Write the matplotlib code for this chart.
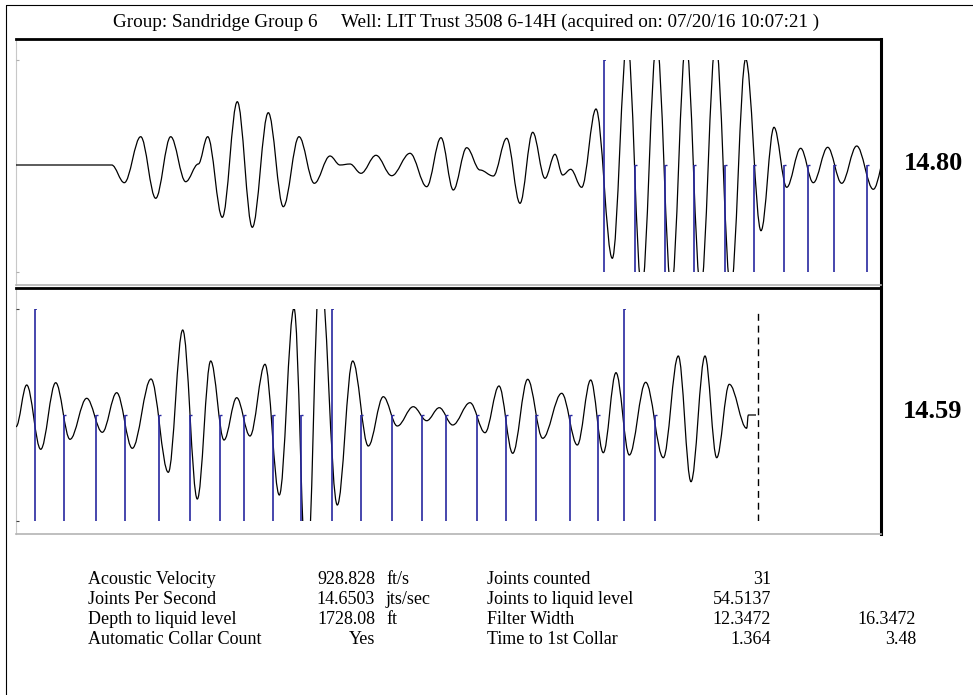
import matplotlib
matplotlib.use('Agg')
import matplotlib.pyplot as plt
from matplotlib.path import Path
from matplotlib.patches import PathPatch, Rectangle

plt.rcParams['font.family'] = ['Liberation Serif', 'DejaVu Serif']

W, H = 973, 695

# ---- data ----
# top shot: extrema of the acoustic trace (time index, amplitude)
top_t = [16, 111.7, 124.3, 140.7, 155.7, 170.7, 185.7, 198.3, 207.7, 222.3, 237.3,
         252.3, 268.3, 283.3, 299, 314.3, 330, 340, 350, 361, 376, 391.7, 410,
         426.7, 441, 453.3, 466.7, 480, 493.3, 506.7, 520, 532.7, 545, 555, 562.7,
         570.7, 581.7, 596, 612.3, 627.3, 641.7, 656.7, 671.3, 686, 700.7, 715.7,
         730.7, 745.7, 761, 774, 786.7, 800.7, 813.3, 827.7, 841.7, 856.7, 873.3, 888]
top_amp = [0, 0, -17.7, 28.3, -33.3, 28.3, -16.7, 1, 28.3, -52.3, 63.3,
           -62.3, 52.3, -41.7, 28.3, -18.3, 9, 0, 1, -8.3, 9.7, -10.7, 11.7,
           -21.7, 27.3, -25, 17.3, -5, -11, 26.7, -38.3, 32.7, -13.3, 10.7, -10,
           -4.3, -22.3, 56, -93.3, 125, -124, 123, -124, 123, -124, 123,
           -124, 106, -65.7, 37.7, -22.3, 16.7, -17.7, 17.7, -18.3, 19, -24.3, 18]
top_collar_first = [604.3]
top_collars = [635.3, 665, 694, 725.3, 754.3, 784, 808, 834, 866.7]

# bottom shot
bot_t = [16, 26.7, 40.7, 55.7, 70, 86.7, 102.3, 116.7, 132.3, 151, 168.3, 182.7,
         197.3, 210.7, 224, 236.7, 250, 265, 279.3, 294, 306.7, 320, 337.3, 352.7,
         368.3, 383.3, 397.3, 413.3, 426.7, 439.3, 452.7, 470, 485, 499, 512.7,
         527.7, 542.7, 561.7, 577.3, 590.7, 603.3, 616, 629.3, 645.7, 663.3, 678.3,
         691, 705, 716.7, 729.3, 746.7, 748.3, 756]
bot_amp = [-11.7, 30, -34.3, 32.3, -24.3, 16.7, -17.3, 22.3, -33.3, 36, -57.3, 85,
           -84, 54, -25, 17.3, -21, 50.7, -80, 106.7, -170, 150, -90, 54,
           -31, 18.3, -11, 8.3, -5.7, 7.3, -10, 12.3, -17.7, 29, -38.3,
           35.7, -23.3, 21.7, -30, 35, -37.7, 42.3, -40, 32.7, -42.7, 59,
           -66.7, 59, -42.7, 30.7, -13.3, 0, 0]
bot_collar_full = [35, 331.7, 624]
bot_collars = [64, 95.7, 124.7, 159.3, 190.3, 219.7, 244, 273.3, 301.3, 361.3,
               392.3, 422, 446, 476.7, 506.3, 535.7, 570.3, 598, 654.7]
liquid_level_t = 758.3

jps_labels = ['14.80', '14.59']
title = ('Group: Sandridge Group 6     Well: LIT Trust 3508 6-14H '
         '(acquired on: 07/20/16 10:07:21 )')

left_names = ['Acoustic Velocity', 'Joints Per Second', 'Depth to liquid level',
              'Automatic Collar Count']
left_vals = ['928.828', '14.6503', '1728.08', 'Yes']
left_units = ['ft/s', 'jts/sec', 'ft', '']
right_names = ['Joints counted', 'Joints to liquid level', 'Filter Width',
               'Time to 1st Collar']
right_vals = ['31', '54.5137', '12.3472', '1.364']
right_vals2 = ['', '', '16.3472', '3.48']

BLUE = '#2828a0'
FS = 13


def rect(x0, y0, x1, y1):
    # pixel box -> figure fraction
    return [x0 / W, 1 - y1 / H, (x1 - x0) / W, (y1 - y0) / H]


def wave_path(t, a, k=0.36):
    verts = [(t[0], a[0])]
    codes = [Path.MOVETO]
    for i in range(1, len(t)):
        dx = t[i] - t[i - 1]
        verts += [(t[i - 1] + k * dx, a[i - 1]), (t[i] - k * dx, a[i]), (t[i], a[i])]
        codes += [Path.CURVE4] * 3
    return Path(verts, codes)


fig = plt.figure(figsize=(W / 100, H / 100), dpi=100)

# background canvas for frame + text
bg = fig.add_axes([0, 0, 1, 1])
bg.set_xlim(0, W)
bg.set_ylim(H, 0)
bg.axis('off')
bg.add_patch(Rectangle((5.5, 4.5), 1000, 1000, fill=False, ec='black', lw=0.8))


def panel(frame_box, inner_box, ylim, t, amp, full, half, label, tick_col):
    fa = fig.add_axes(rect(*frame_box))
    fa.set_xticks([])
    fa.set_yticks([])
    fa.spines['top'].set_linewidth(2.0)
    fa.spines['right'].set_linewidth(2.2)
    fa.spines['left'].set_color('#c8c8c8')
    fa.spines['bottom'].set_color('#b4b4b4')
    fa.spines['left'].set_linewidth(0.8)
    fa.spines['bottom'].set_linewidth(1.2)

    ax = fig.add_axes(rect(*inner_box))
    ax.patch.set_visible(False)
    for s in ax.spines.values():
        s.set_visible(False)
    ax.set_xlim(16, 880)
    ax.set_ylim(*ylim)
    ax.set_xticks([])
    ax.set_yticks(list(ylim))
    ax.set_yticklabels([])
    ax.tick_params(axis='y', direction='in', length=2.5, width=0.8, color=tick_col)

    ax.vlines(full, ylim[0], ylim[1], color=BLUE, lw=1.2)
    ax.vlines(half, ylim[0], 0, color=BLUE, lw=1.2)
    # little caps on the collar marks
    ax.hlines([ylim[1]] * len(full), full, [x + 2 for x in full], color=BLUE, lw=1.2)
    ax.hlines([0] * len(half), half, [x + 2 for x in half], color=BLUE, lw=1.0)
    ax.add_patch(PathPatch(wave_path(t, amp), fill=False, ec='black', lw=0.9))
    bg.text(933, (frame_box[1] + frame_box[3]) / 2 + 1, label, fontsize=19,
            fontweight='bold', ha='center', va='center')
    return ax


panel((16, 39, 881, 285), (16, 60, 880, 272), (-107, 105),
      top_t, top_amp, top_collar_first, top_collars, jps_labels[0], '#b0b0b0')
axb = panel((16, 288, 881, 533.5), (16, 309.3, 880, 520.7), (-105.7, 105.7),
            bot_t, bot_amp, bot_collar_full, bot_collars, jps_labels[1], '#404040')
axb.vlines([liquid_level_t], -106, 102, color='black', lw=1.0, linestyles=(0, (5, 3.5)))

bg.text(466, 22, title, fontsize=13.8, ha='center', va='center')

rows_y = [580, 600, 620, 640]
for i, y in enumerate(rows_y):
    bg.text(88, y, left_names[i], fontsize=FS, va='center')
    bg.text(375, y, left_vals[i], fontsize=FS, va='center', ha='right')
    bg.text(386, y, left_units[i], fontsize=FS, va='center')
    bg.text(487, y, right_names[i], fontsize=FS, va='center')
    bg.text(771, y, right_vals[i], fontsize=FS, va='center', ha='right')
    bg.text(916, y, right_vals2[i], fontsize=FS, va='center', ha='right')

fig.savefig('out.png', dpi=100)
